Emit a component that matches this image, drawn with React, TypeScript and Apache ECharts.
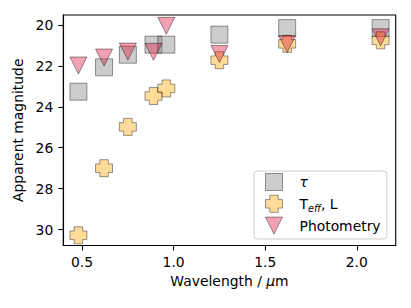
import React, { useEffect, useRef } from "react";
import * as echarts from "echarts";

const wavelength = [0.48, 0.62, 0.75, 0.89, 0.96, 1.25, 1.62, 2.13];
const tauMag = [23.26, 22.07, 21.45, 20.96, 20.96, 20.47, 20.15, 20.15];
const teffMag = [30.28, 27.0, 24.98, 23.47, 23.1, 21.72, 20.92, 20.75];
const photMag = [21.98, 21.59, 21.3, 21.31, 20.04, 21.42, 20.93, 20.6];

const xTicks = [0.5, 1.0, 1.5, 2.0];
const yTicks = [20, 22, 24, 26, 28, 30];

const SQ = "path://M0,0H16V16H0Z";
const PLUS = "path://M4,0H12V4H16V12H12V16H4V12H0V4H4Z";
const TRI = "path://M0,0H16L8,16Z";

const FONT = "DejaVu Sans";
const FS = 13.9;

const styles = {
  tau: { color: "rgba(128,128,128,0.5)", borderColor: "rgba(0,0,0,0.5)", borderWidth: 1 },
  teff: { color: "rgba(255,165,0,0.5)", borderColor: "rgba(0,0,0,0.5)", borderWidth: 1 },
  phot: { color: "rgba(220,20,60,0.5)", borderColor: "rgba(0,0,0,0.5)", borderWidth: 1 },
};

export default function App() {
  const ref = useRef<HTMLDivElement>(null);
  useEffect(() => {
    if (!ref.current) return;
    const chart = echarts.init(ref.current, null, { renderer: "svg" });
    const axisCommon = {
      axisLine: { show: true, onZero: false, lineStyle: { color: "#000", width: 1.1 } },
      splitLine: { show: false },
    };
    chart.setOption({
      animation: false,
      textStyle: { fontFamily: FONT },
      grid: {
        left: 63.3,
        top: 15,
        right: 15.3,
        bottom: 62.5,
        show: true,
        borderColor: "#000",
        borderWidth: 1.1,
        backgroundColor: "transparent",
      },
      xAxis: {
        type: "value",
        min: 0.3975,
        max: 2.2125,
        ...axisCommon,
        axisTick: { show: true, length: 5, lineStyle: { color: "#000", width: 1.1 }, customValues: xTicks },
        axisLabel: {
          customValues: xTicks,
          formatter: (v: number) => v.toFixed(1),
          margin: 9,
          color: "#000",
          fontSize: FS,
          fontFamily: FONT,
        },
        name: "Wavelength / {i|μ}m",
        nameLocation: "middle",
        nameGap: 28,
        nameTextStyle: {
          color: "#000",
          fontSize: FS,
          fontFamily: FONT,
          rich: { i: { fontStyle: "italic", fontSize: FS, fontFamily: FONT, color: "#000" } },
        },
      },
      yAxis: {
        type: "value",
        inverse: true,
        min: 19.51,
        max: 30.78,
        ...axisCommon,
        axisTick: { show: true, length: 5, lineStyle: { color: "#000", width: 1.1 }, customValues: yTicks },
        axisLabel: {
          customValues: yTicks,
          formatter: (v: number) => String(v),
          margin: 10,
          color: "#000",
          fontSize: FS,
          fontFamily: FONT,
        },
        name: "Apparent magnitude",
        nameLocation: "middle",
        nameGap: 31,
        nameRotate: 90,
        nameTextStyle: { color: "#000", fontSize: FS, fontFamily: FONT },
      },
      legend: {
        orient: "vertical",
        left: 254,
        top: 171,
        itemWidth: 17,
        itemHeight: 17,
        itemGap: 1.8,
        padding: [1, 6.3, 3.4, 11],
        backgroundColor: "rgba(255,255,255,0.8)",
        borderColor: "#cccccc",
        borderWidth: 1,
        borderRadius: 3,
        data: [
          { name: "tau", icon: SQ, itemStyle: styles.tau },
          { name: "Teff, L", icon: PLUS, itemStyle: styles.teff },
          { name: "Photometry", icon: TRI, itemStyle: styles.phot },
        ],
        formatter: (name: string) =>
          "{g| }" +
          (name === "tau" ? "{it|τ}" : name === "Teff, L" ? "T{sub|eff}, L" : name),
        textStyle: {
          color: "#000",
          fontSize: FS,
          fontFamily: FONT,
          lineHeight: 20,
          rich: {
            g: { width: 12, fontSize: FS, lineHeight: 20 },
            it: { fontStyle: "italic", fontSize: FS, fontFamily: FONT, color: "#000", lineHeight: 20 },
            sub: {
              fontStyle: "italic",
              fontSize: 9.7,
              fontFamily: FONT,
              color: "#000",
              lineHeight: 20,
              verticalAlign: "bottom",
            },
          },
        },
      },
      series: [
        {
          name: "tau",
          type: "scatter",
          symbol: SQ,
          symbolSize: 17,
          clip: false,
          itemStyle: styles.tau,
          data: wavelength.map((w, i) => [w, tauMag[i]]),
        },
        {
          name: "Teff, L",
          type: "scatter",
          symbol: PLUS,
          symbolSize: 17,
          clip: false,
          itemStyle: styles.teff,
          data: wavelength.map((w, i) => [w, teffMag[i]]),
        },
        {
          name: "Photometry",
          type: "scatter",
          symbol: TRI,
          symbolSize: 17,
          clip: false,
          itemStyle: styles.phot,
          data: wavelength.map((w, i) => [w, photMag[i]]),
        },
      ],
    });
    return () => chart.dispose();
  }, []);
  return (
    <div
      ref={ref}
      style={{ position: "absolute", left: 0, top: 0, width: 411, height: 308 }}
    />
  );
}
